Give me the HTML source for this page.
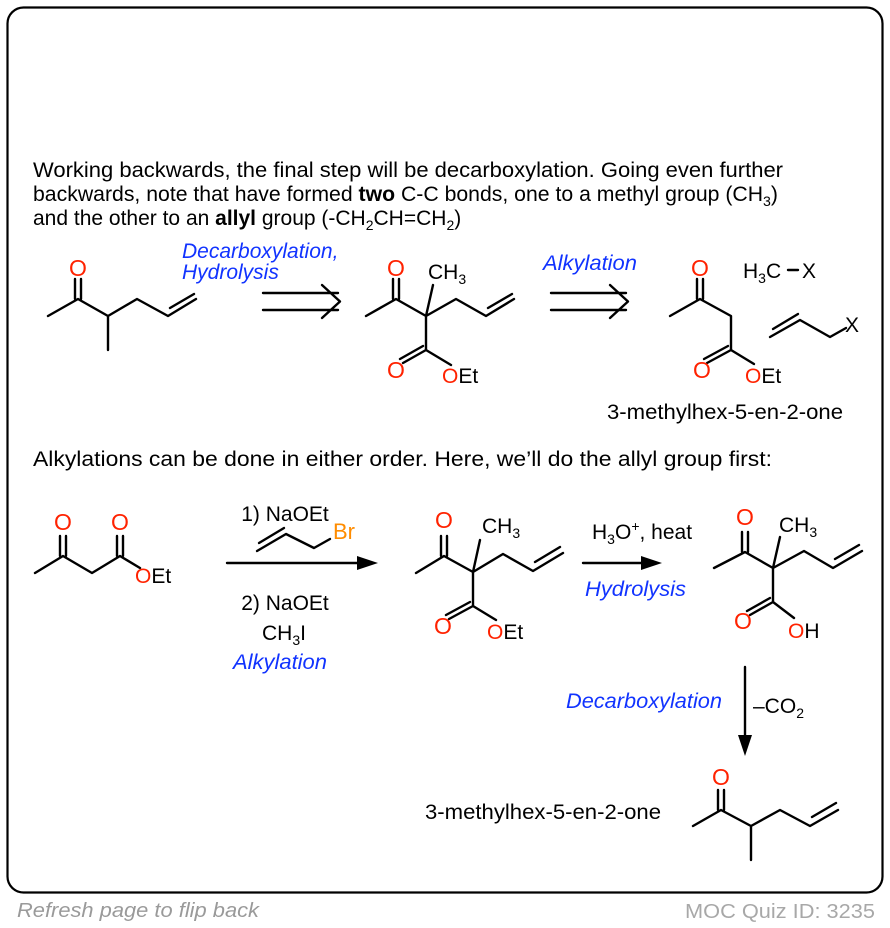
<!DOCTYPE html>
<html><head><meta charset="utf-8"><style>
body{margin:0;background:#fff;}
svg{display:block;font-family:"Liberation Sans",Arial,sans-serif;}
.b{stroke:#000;stroke-width:2.4;fill:none;stroke-linecap:round;stroke-linejoin:round}
.o{fill:#ff2200;font-size:23px}
.t{font-size:21px;fill:#000}
.bl{font-size:21px;fill:#1133ff;font-style:italic}
</style></head><body>
<svg width="890" height="928" viewBox="0 0 890 928" xmlns="http://www.w3.org/2000/svg">
<rect x="7.5" y="7.5" width="875" height="885" rx="16" fill="#fff" stroke="#000" stroke-width="2.2"/>
<g class="t">
<text x="33" y="177" textLength="750" lengthAdjust="spacingAndGlyphs">Working backwards, the final step will be decarboxylation. Going even further</text>
<text x="33" y="201" textLength="745" lengthAdjust="spacingAndGlyphs">backwards, note that have formed <tspan font-weight="bold">two</tspan> C-C bonds, one to a methyl group (CH<tspan font-size="14" dy="5">3</tspan><tspan dy="-5">)</tspan></text>
<text x="33" y="225">and the other to an <tspan font-weight="bold">allyl</tspan> group (-CH<tspan font-size="14" dy="5">2</tspan><tspan dy="-5">CH=CH</tspan><tspan font-size="14" dy="5">2</tspan><tspan dy="-5">)</tspan></text>
<text x="33" y="466" textLength="739" lengthAdjust="spacingAndGlyphs">Alkylations can be done in either order. Here, we’ll do the allyl group first:</text>
</g>

<!-- Top structure 1 -->
<path class="b" d="M48,316 L78,299 L108,316 L137,299 L168,316 L196,299 M108,316 L108,350 M75,299 L75,279 M81,299 L81,279 M170,308 L194,294"/>
<text class="o" x="78" y="276" text-anchor="middle">O</text>
<text class="bl" x="182" y="258" font-size="22">Decarboxylation,</text>
<text class="bl" x="182" y="279" font-size="22">Hydrolysis</text>
<path class="b" d="M263,293 L338,293 M263,310 L338,310 M322,285 L340,301.5 L322,318"/>

<!-- Top structure 2 -->
<path class="b" d="M366,316 L396,299 L426,316 L456,299 L486,316 L514,299 M426,316 L433,285 M426,316 L426,350 L451,365 M393,299 L393,279 M399,299 L399,279 M426,350 L403,363 M423,346 L400,359 M488,308 L512,294"/>
<text class="o" x="396" y="276" text-anchor="middle">O</text>
<text class="t" x="428" y="279">CH<tspan font-size="14" dy="5">3</tspan></text>
<text class="o" x="396" y="378" text-anchor="middle">O</text>
<text x="442" y="383" class="t" font-size="23"><tspan fill="#ff2200">O</tspan>Et</text>
<text class="bl" x="543" y="270" textLength="94" lengthAdjust="spacingAndGlyphs">Alkylation</text>
<path class="b" d="M551,293 L626,293 M551,310 L626,310 M610,285 L628,301.5 L610,318"/>

<!-- Top structure 3 -->
<path class="b" d="M670,316 L700,299 L731,316 L731,350 L754,364 M697,299 L697,279 M703,299 L703,279 M731,350 L707,363 M728,346 L704,359"/>
<text class="o" x="700" y="276" text-anchor="middle">O</text>
<text class="o" x="702" y="378" text-anchor="middle">O</text>
<text x="745" y="383" class="t" font-size="23"><tspan fill="#ff2200">O</tspan>Et</text>
<text class="t" x="743" y="278" font-size="22">H<tspan font-size="14" dy="5">3</tspan><tspan dy="-5">C</tspan></text>
<path class="b" d="M788,270 L798,270"/>
<text class="t" x="802" y="278" font-size="22">X</text>
<path class="b" d="M770,337 L800,320 L830,337 L846,328 M773,329 L798,314"/>
<text class="t" x="845" y="332" font-size="22">X</text>
<text class="t" x="607" y="419" textLength="236" lengthAdjust="spacingAndGlyphs">3-methylhex-5-en-2-one</text>

<!-- Bottom structure A -->
<path class="b" d="M35,573 L63,556 L92,573 L120,556 L140,568 M60,556 L60,536 M66,556 L66,536 M117,556 L117,536 M123,556 L123,536"/>
<text class="o" x="63" y="530" text-anchor="middle">O</text>
<text class="o" x="120" y="530" text-anchor="middle">O</text>
<text x="135" y="583" class="t" font-size="23"><tspan fill="#ff2200">O</tspan>Et</text>

<path class="b" d="M227,563 L362,563"/>
<polygon points="378,563 357,556 357,570" fill="#000"/>
<text class="t" x="285" y="521" text-anchor="middle">1) NaOEt</text>
<path class="b" d="M257,551 L286,534 L314,548 L330,539 M259,543 L284,528"/>
<text x="333" y="539" font-size="22" fill="#ff8c00">Br</text>
<text class="t" x="285" y="610" text-anchor="middle">2) NaOEt</text>
<text class="t" x="284" y="640" text-anchor="middle">CH<tspan font-size="14" dy="5">3</tspan><tspan dy="-5">I</tspan></text>
<text class="bl" x="233" y="669" textLength="94" lengthAdjust="spacingAndGlyphs">Alkylation</text>

<!-- Bottom structure B -->
<path class="b" d="M416,573 L444,556 L473,572 L503,554 L533,571 L563,553 M473,572 L480,540 M473,572 L473,606 L496,620 M441,556 L441,536 M447,556 L447,536 M473,606 L449,619 M470,602 L446,615 M535,562 L560,547"/>
<text class="o" x="444" y="528" text-anchor="middle">O</text>
<text class="t" x="482" y="533">CH<tspan font-size="14" dy="5">3</tspan></text>
<text class="o" x="443" y="634" text-anchor="middle">O</text>
<text x="487" y="639" class="t" font-size="23"><tspan fill="#ff2200">O</tspan>Et</text>

<path class="b" d="M583,563 L645,563"/>
<polygon points="662,563 641,556 641,570" fill="#000"/>
<text class="t" x="592" y="539">H<tspan font-size="14" dy="5">3</tspan><tspan dy="-5">O</tspan><tspan font-size="14" dy="-8">+</tspan><tspan dy="8">, heat</tspan></text>
<text class="bl" x="585" y="596" textLength="101" lengthAdjust="spacingAndGlyphs">Hydrolysis</text>

<!-- Bottom structure C -->
<path class="b" d="M714,568 L745,552 L773,568 L804,551 L833,568 L862,551 M773,568 L780,537 M773,568 L773,602 L794,618 M742,552 L742,532 M748,552 L748,532 M773,602 L750,615 M770,598 L747,611 M835,559 L859,545"/>
<text class="o" x="745" y="525" text-anchor="middle">O</text>
<text class="t" x="779" y="532">CH<tspan font-size="14" dy="5">3</tspan></text>
<text class="o" x="743" y="629" text-anchor="middle">O</text>
<text x="788" y="638" class="t" font-size="23"><tspan fill="#ff2200">O</tspan>H</text>

<path class="b" d="M745,667 L745,738"/>
<polygon points="745,756 738,735 752,735" fill="#000"/>
<text class="bl" x="566" y="708" textLength="156" lengthAdjust="spacingAndGlyphs">Decarboxylation</text>
<text class="t" x="753" y="713">–CO<tspan font-size="14" dy="5">2</tspan></text>

<text class="t" x="425" y="819" textLength="236" lengthAdjust="spacingAndGlyphs">3-methylhex-5-en-2-one</text>
<path class="b" d="M693,826 L721,810 L751,826 L780,810 L810,826 L838,810 M751,826 L751,860 M718,810 L718,790 M724,810 L724,790 M812,817 L836,803"/>
<text class="o" x="721" y="785" text-anchor="middle">O</text>

<text x="17" y="917" font-size="20" font-style="italic" fill="#9a9a9a" textLength="242" lengthAdjust="spacingAndGlyphs">Refresh page to flip back</text>
<text x="685" y="918" font-size="20" fill="#a8a8a8" textLength="190" lengthAdjust="spacingAndGlyphs">MOC Quiz ID: 3235</text>
</svg>
</body></html>
